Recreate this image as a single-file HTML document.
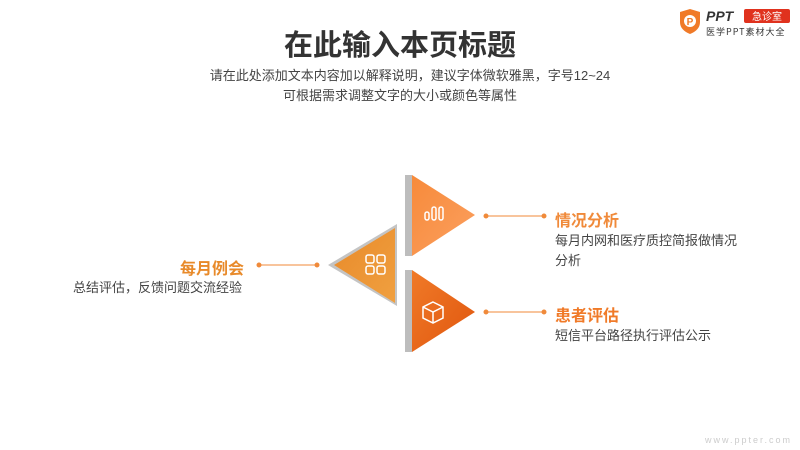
<!DOCTYPE html>
<html><head><meta charset="utf-8"><style>
body{margin:0;width:800px;height:450px;background:#fff;position:relative;overflow:hidden;font-family:"Liberation Sans","Noto Sans CJK SC",sans-serif;}
.t{position:absolute;white-space:nowrap;}
</style></head><body>
<div class="t" style="left:0;width:800px;text-align:center;top:22px;font-size:29px;font-weight:bold;color:#333;">在此输入本页标题</div>
<div class="t" style="left:0;width:820px;text-align:center;top:65px;font-size:13px;color:#444;">请在此处添加文本内容加以解释说明，建议字体微软雅黑，字号12~24</div>
<div class="t" style="left:0;width:800px;text-align:center;top:85px;font-size:13px;color:#444;">可根据需求调整文字的大小或颜色等属性</div>

<svg style="position:absolute;left:0;top:0" width="800" height="450">
<defs>
<linearGradient id="g1" x1="0" y1="0" x2="1" y2="1"><stop offset="0" stop-color="#f78a3a"/><stop offset="1" stop-color="#fba060"/></linearGradient>
<linearGradient id="g2" x1="0" y1="0" x2="1" y2="1"><stop offset="0" stop-color="#f07a28"/><stop offset="1" stop-color="#e0560e"/></linearGradient>
<linearGradient id="g3" x1="0" y1="0" x2="1" y2="1"><stop offset="0" stop-color="#e88a2a"/><stop offset="1" stop-color="#f0a040"/></linearGradient>
</defs>
<rect x="405" y="175" width="7" height="81" fill="#bdbdbd"/>
<polygon points="412,175 475,215 412,256" fill="url(#g1)"/>
<rect x="405" y="270" width="7" height="82" fill="#bdbdbd"/>
<polygon points="412,270 475,312 412,352" fill="url(#g2)"/>
<polygon points="397,224 397,306 328,265" fill="#c4c4c4"/>
<polygon points="395,228 395,303 334,265" fill="url(#g3)"/>
<g fill="none" stroke="#fff" stroke-width="1.5">
<rect x="425" y="212" width="4" height="8" rx="2"/><rect x="432" y="207" width="4" height="13" rx="2"/><rect x="439" y="207" width="4" height="13" rx="2"/>
<rect x="366" y="255" width="8" height="8" rx="2"/><rect x="377" y="255" width="8" height="8" rx="2"/><rect x="366" y="266" width="8" height="8" rx="2"/><rect x="377" y="266" width="8" height="8" rx="2"/>
<path d="M433 302 L443 307 L443 318 L433 323 L423 318 L423 307 Z M423 307 L433 312 L443 307 M433 312 L433 323"/>
</g>
<g stroke="#f08a3a" stroke-width="1" fill="#f08a3a">
<line x1="485" y1="216" x2="545" y2="216"/><circle cx="486" cy="216" r="2"/><circle cx="544" cy="216" r="2"/>
<line x1="485" y1="312" x2="545" y2="312"/><circle cx="486" cy="312" r="2"/><circle cx="544" cy="312" r="2"/>
<line x1="258" y1="265" x2="318" y2="265"/><circle cx="259" cy="265" r="2"/><circle cx="317" cy="265" r="2"/>
</g>
<path d="M680 12 L690 9 L700 12 L700 22 Q700 30 690 34 Q680 30 680 22 Z" fill="#f07a28"/>
<circle cx="690" cy="21" r="6" fill="#fff"/><text x="690" y="25" font-size="10" font-weight="bold" fill="#f07a28" text-anchor="middle" font-family="Liberation Sans">P</text>
<text x="706" y="21" font-size="14" font-weight="bold" font-style="italic" fill="#333" font-family="Liberation Sans">PPT</text>
<rect x="744" y="9" width="46" height="14" rx="2" fill="#e0321e"/>
<text x="767" y="20" font-size="10" fill="#fff" text-anchor="middle" font-family="Noto Sans CJK SC">急诊室</text>
<text x="706" y="35" font-size="9" fill="#333" font-family="Noto Sans CJK SC" letter-spacing="1">医学PPT素材大全</text>
<text x="705" y="443" font-size="9" fill="#ccc" letter-spacing="2" font-family="Liberation Sans">www.ppter.com</text>
</svg>

<div class="t" style="left:555px;top:207px;font-size:16px;font-weight:bold;color:#f08a3a;">情况分析</div>
<div class="t" style="left:555px;top:231px;font-size:13px;color:#444;line-height:20px;">每月内网和医疗质控简报做情况<br>分析</div>
<div class="t" style="left:555px;top:302px;font-size:16px;font-weight:bold;color:#f07a28;">患者评估</div>
<div class="t" style="left:555px;top:325px;font-size:13px;color:#444;">短信平台路径执行评估公示</div>
<div class="t" style="left:180px;top:255px;font-size:16px;font-weight:bold;color:#e88a2a;">每月例会</div>
<div class="t" style="left:73px;top:277px;font-size:13px;color:#444;">总结评估，反馈问题交流经验</div>
</body></html>
